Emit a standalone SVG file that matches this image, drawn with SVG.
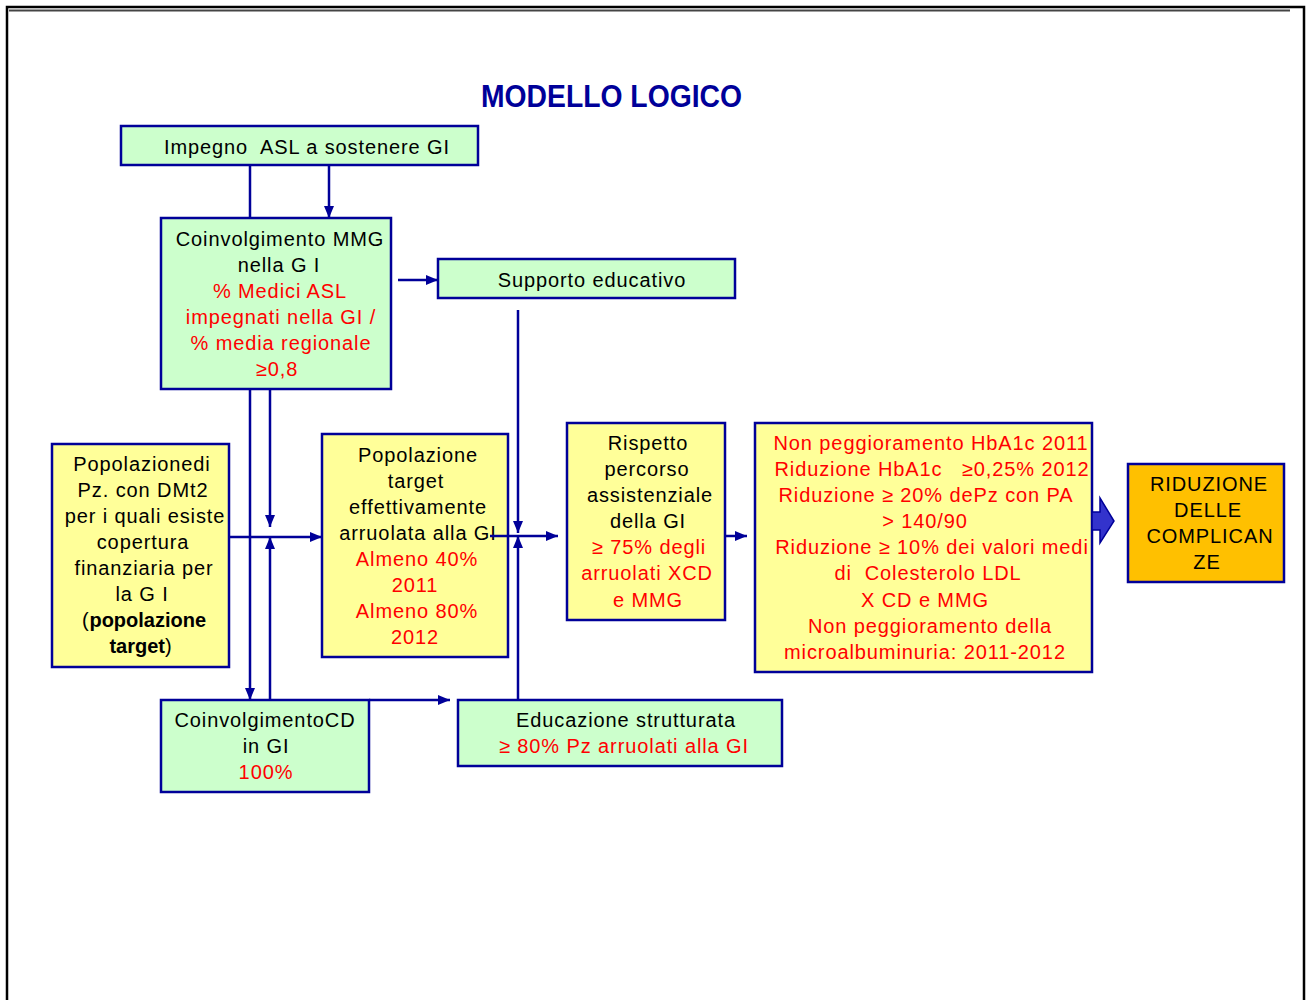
<svg xmlns="http://www.w3.org/2000/svg" width="1307" height="1000" viewBox="0 0 1307 1000">
<style>
.g{fill:#CCFFCC;stroke:#000099;stroke-width:2.5}
.y{fill:#FFFF99;stroke:#000099;stroke-width:2.5}
.o{fill:#FFC000;stroke:#000099;stroke-width:2.5}
text{font-family:"Liberation Sans",Arial,sans-serif;font-size:20px;letter-spacing:0.9px;text-anchor:middle;fill:#000}
.r{fill:#FF0000}
.c{fill:none;stroke:#000099;stroke-width:2.5}
.t{font-size:31px;font-weight:bold;fill:#000099;letter-spacing:0;text-anchor:start}
</style>
<defs>
<marker id="ah" viewBox="0 0 12 10" markerUnits="userSpaceOnUse" markerWidth="12" markerHeight="10" refX="12" refY="5" orient="auto">
<path d="M0,0 L12,5 L0,10 z" fill="#000099"/>
</marker>
</defs>
<rect width="1307" height="1000" fill="#fff"/>
<g id="frame">
<path d="M7,1000 V7 H1304 V1000" fill="none" stroke="#000" stroke-width="2.5"/>
<path d="M9,10.5 H1290" fill="none" stroke="#444" stroke-width="2"/>
</g>
<text id="title" class="t" x="481" y="107" textLength="261" lengthAdjust="spacingAndGlyphs">MODELLO LOGICO</text>

<g id="impegno">
<rect class="g" x="121" y="126" width="357" height="39"/>
<text x="307" y="154">Impegno&#160; ASL a sostenere GI</text>
</g>
<g id="mmg">
<rect class="g" x="161" y="218" width="230" height="171"/>
<text x="280" y="246">Coinvolgimento MMG</text>
<text x="279" y="272">nella G I</text>
<text class="r" x="280" y="298">% Medici ASL</text>
<text class="r" x="281" y="324">impegnati nella GI /</text>
<text class="r" x="281" y="350">% media regionale</text>
<text class="r" x="277" y="376">≥0,8</text>
</g>
<g id="supporto">
<rect class="g" x="438" y="259" width="297" height="39"/>
<text x="592" y="287">Supporto educativo</text>
</g>
<g id="popolazione">
<rect class="y" x="52" y="444" width="177" height="223"/>
<text x="142" y="471">Popolazionedi</text>
<text x="143" y="497">Pz. con DMt2</text>
<text x="145" y="523">per i quali esiste</text>
<text x="143" y="549">copertura</text>
<text x="144" y="575">finanziaria per</text>
<text x="142" y="601">la G I</text>
<text x="144" y="627">(<tspan font-weight="bold" letter-spacing="0">popolazione</tspan></text>
<text x="141" y="653"><tspan font-weight="bold" letter-spacing="0">target</tspan>)</text>
</g>
<g id="target">
<rect class="y" x="322" y="434" width="186" height="223"/>
<text x="418" y="462">Popolazione</text>
<text x="416" y="488">target</text>
<text x="418" y="514">effettivamente</text>
<text x="418" y="540">arruolata alla GI</text>
<text class="r" x="417" y="566">Almeno 40%</text>
<text class="r" x="415" y="592">2011</text>
<text class="r" x="417" y="618">Almeno 80%</text>
<text class="r" x="415" y="644">2012</text>
</g>
<g id="rispetto">
<rect class="y" x="567" y="423" width="158" height="197"/>
<text x="648" y="450">Rispetto</text>
<text x="647" y="476">percorso</text>
<text x="650" y="502">assistenziale</text>
<text x="648" y="528">della GI</text>
<text class="r" x="649" y="554">≥ 75% degli</text>
<text class="r" x="647" y="580">arruolati XCD</text>
<text class="r" x="648" y="607">e MMG</text>
</g>
<g id="risultati">
<rect class="y" x="755" y="423" width="337" height="249"/>
<text class="r" x="931" y="450">Non peggioramento HbA1c 2011</text>
<text class="r" x="932" y="476">Riduzione HbA1c&#160;&#160; ≥0,25% 2012</text>
<text class="r" x="926" y="502">Riduzione ≥ 20% dePz con PA</text>
<text class="r" x="925" y="528">&gt; 140/90</text>
<text class="r" x="932" y="554">Riduzione ≥ 10% dei valori medi</text>
<text class="r" x="928" y="580">di&#160; Colesterolo LDL</text>
<text class="r" x="925" y="607">X CD e MMG</text>
<text class="r" x="930" y="633">Non peggioramento della</text>
<text class="r" x="925" y="659">microalbuminuria: 2011-2012</text>
</g>
<g id="riduzione">
<rect class="o" x="1128" y="464" width="156" height="118"/>
<text x="1209" y="491">RIDUZIONE</text>
<text x="1208" y="517">DELLE</text>
<text x="1210" y="543">COMPLICAN</text>
<text x="1207" y="569">ZE</text>
</g>
<g id="cd">
<rect class="g" x="161" y="700" width="208" height="92"/>
<text x="265" y="727">CoinvolgimentoCD</text>
<text x="266" y="753">in GI</text>
<text class="r" x="266" y="779">100%</text>
</g>
<g id="educazione">
<rect class="g" x="458" y="700" width="324" height="66"/>
<text x="626" y="727">Educazione strutturata</text>
<text class="r" x="624" y="753">≥ 80% Pz arruolati alla GI</text>
</g>

<g id="connectors">
<path class="c" d="M250,165 V218"/>
<path class="c" d="M329,165 V218" marker-end="url(#ah)"/>
<path class="c" d="M398,280 H438" marker-end="url(#ah)"/>
<path class="c" d="M250,389 V700" marker-end="url(#ah)"/>
<path class="c" d="M270,389 V527" marker-end="url(#ah)"/>
<path class="c" d="M270,700 V537" marker-end="url(#ah)"/>
<path class="c" d="M228,537 H322" marker-end="url(#ah)"/>
<path class="c" d="M518,310 V533" marker-end="url(#ah)"/>
<path class="c" d="M518,700 V536" marker-end="url(#ah)"/>
<path class="c" d="M490,536 H558" marker-end="url(#ah)"/>
<path class="c" d="M725,536 H747" marker-end="url(#ah)"/>
<path class="c" d="M369,700 H450" marker-end="url(#ah)"/>
<polygon points="1092,512 1100,512 1100,498 1114,521 1100,543 1100,530 1092,530" fill="#3333CC" stroke="#000099" stroke-width="1.5"/>
</g>
</svg>
